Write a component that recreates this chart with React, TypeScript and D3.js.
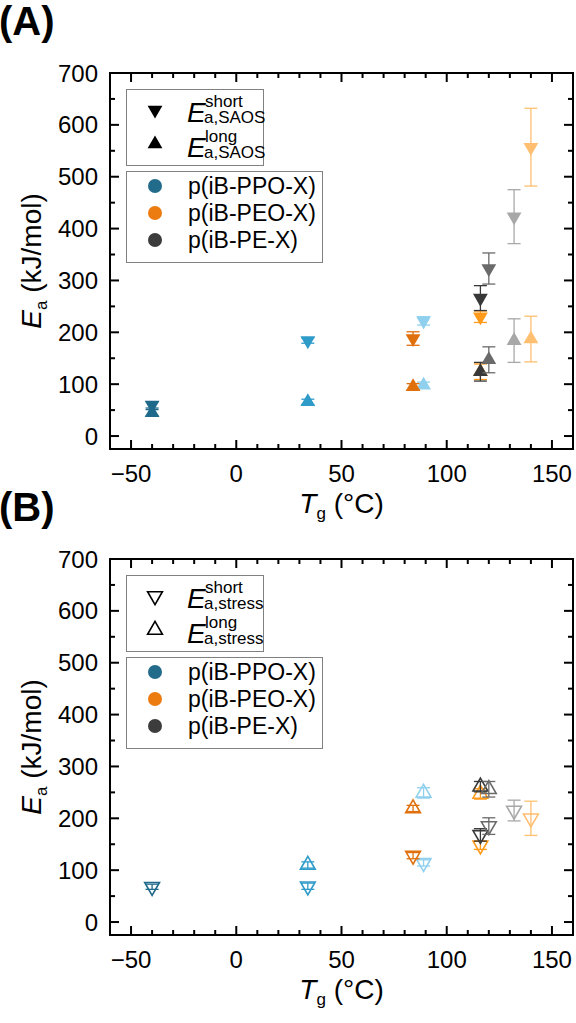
import { useEffect, useRef } from 'react';
import * as d3 from 'd3';

// glass transition temperature of every sample (°C)
const tgValues = [-40, 34, 89, 84, 116, 140, 116, 120, 132];
const sampleColors = ['#1f6a8b', '#2f9bc9', '#8fd0ee', '#e0700c', '#ff9a1a', '#ffbf70', '#383838', '#6a6a6a', '#a8a8a8'];

// activation energies from SAOS (kJ/mol)
const saosShort = [60, 184, 222, 188, 230, 557, 266, 323, 423];
const saosShortErr = [6, 5, 8, 13, 11, 75, 24, 30, 52];
const saosLong = [45, 66, 98, 95, 124, 187, 124, 147, 184];
const saosLongErr = [6, 5, 6, 6, 15, 44, 18, 25, 42];

// activation energies from stress relaxation (kJ/mol)
const stressShort = [68, 69, 114, 128, 148, 200, 168, 185, 215];
const stressShortErr = [5, 6, 6, 6, 8, 33, 12, 16, 20];
const stressLong = [NaN, 110, 249, 219, 247, NaN, 261, 256, NaN];
const stressLongErr = [0, 6, 10, 6, 10, 0, 10, 15, 0];

const familyNames = ['p(iB-PPO-X)', 'p(iB-PEO-X)', 'p(iB-PE-X)'];
const familyColors = ['#226b8b', '#ec7b10', '#3c3c3c'];

const xTicks = [-50, 0, 50, 100, 150];
const yTicks = [0, 100, 200, 300, 400, 500, 600, 700];

const FONT = 'Liberation Sans, Arial, Helvetica, sans-serif';
const W = 576;
const H = 1023;

interface PanelOpts {
  dy: number;
  tag: string;
  sub: string;
  hollow: boolean;
  short: number[];
  shortErr: number[];
  long: number[];
  longErr: number[];
}

function drawPanel(root: d3.Selection<SVGGElement, unknown, null, undefined>, o: PanelOpts) {
  const g = root.append('g').attr('transform', `translate(0,${o.dy})`);
  const left = 110, right = 573, top = 73, bottom = 449;

  const x = d3.scaleLinear().domain([-60, 160]).range([left, right]);
  const y = d3.scaleLinear().domain([-25, 700]).range([bottom, top]);

  // panel tag
  g.append('text')
    .attr('x', -1).attr('y', 35)
    .attr('font-family', FONT).attr('font-weight', 'bold').attr('font-size', 40)
    .text(`(${o.tag})`);

  // ticks on all four sides, pointing inward
  d3.range(-50, 160, 10).forEach(v => {
    const len = v % 50 === 0 ? 9 : 5;
    const px = x(v);
    g.append('line').attr('x1', px).attr('x2', px).attr('y1', bottom).attr('y2', bottom - len)
      .attr('stroke', '#000').attr('stroke-width', 2);
    g.append('line').attr('x1', px).attr('x2', px).attr('y1', top).attr('y2', top + len)
      .attr('stroke', '#000').attr('stroke-width', 2);
  });
  d3.range(0, 700, 50).forEach(v => {
    const len = v % 100 === 0 ? 9 : 5;
    const py = y(v);
    g.append('line').attr('x1', left).attr('x2', left + len).attr('y1', py).attr('y2', py)
      .attr('stroke', '#000').attr('stroke-width', 2);
    g.append('line').attr('x1', right).attr('x2', right - len).attr('y1', py).attr('y2', py)
      .attr('stroke', '#000').attr('stroke-width', 2);
  });

  g.append('rect')
    .attr('x', left).attr('y', top)
    .attr('width', right - left).attr('height', bottom - top)
    .attr('fill', 'none').attr('stroke', '#000').attr('stroke-width', 2);

  // tick labels
  xTicks.forEach(v => {
    g.append('text')
      .attr('x', x(v)).attr('y', bottom + 33)
      .attr('text-anchor', 'middle')
      .attr('font-family', FONT).attr('font-size', 24)
      .text(v < 0 ? `\u2212${Math.abs(v)}` : `${v}`);
  });
  yTicks.forEach(v => {
    g.append('text')
      .attr('x', 98).attr('y', y(v) + 8.5)
      .attr('text-anchor', 'end')
      .attr('font-family', FONT).attr('font-size', 24)
      .text(`${v}`);
  });

  // axis titles
  const xt = g.append('text')
    .attr('x', (left + right) / 2).attr('y', bottom + 64)
    .attr('text-anchor', 'middle')
    .attr('font-family', FONT).attr('font-size', 28);
  xt.append('tspan').attr('font-style', 'italic').text('T');
  xt.append('tspan').attr('font-size', 17).attr('dy', 6).text('g');
  xt.append('tspan').attr('dy', -6).text(' (°C)');

  const yt = g.append('text')
    .attr('transform', `translate(41,${(top + bottom) / 2}) rotate(-90)`)
    .attr('text-anchor', 'middle')
    .attr('font-family', FONT).attr('font-size', 28);
  yt.append('tspan').attr('font-style', 'italic').text('E');
  yt.append('tspan').attr('font-size', 17).attr('dy', 6).text('a');
  yt.append('tspan').attr('dy', -6).text(' (kJ/mol)');

  // data: error bars then triangles
  const tri = d3.symbol().type(d3.symbolTriangle).size(95)();
  const drawSet = (vals: number[], errs: number[], pointDown: boolean, i: number) => {
    const v = vals[i];
    if (Number.isNaN(v)) return;
    const c = sampleColors[i];
    const px = x(tgValues[i]);
    const e = errs[i];
    const eb = g.append('g').attr('stroke', c).attr('stroke-width', 1.3);
    eb.append('line').attr('x1', px).attr('x2', px).attr('y1', y(v - e)).attr('y2', y(v + e));
    [v - e, v + e].forEach(ev => {
      eb.append('line').attr('x1', px - 6.5).attr('x2', px + 6.5).attr('y1', y(ev)).attr('y2', y(ev));
    });
    g.append('path')
      .attr('d', tri)
      .attr('transform', `translate(${px},${y(v)})${pointDown ? ' rotate(180)' : ''}`)
      .attr('fill', o.hollow ? 'none' : c)
      .attr('stroke', o.hollow ? c : 'none')
      .attr('stroke-width', 1.6);
  };
  tgValues.forEach((_, i) => {
    drawSet(o.short, o.shortErr, true, i);
    drawSet(o.long, o.longErr, false, i);
  });

  // legend: marker types
  const lg = g.append('g');
  lg.append('rect').attr('x', 126.5).attr('y', 89.5).attr('width', 137).attr('height', 76)
    .attr('fill', '#fff').attr('stroke', '#808080').attr('stroke-width', 1);
  [['short', true], ['long', false]].forEach(([label, pd], k) => {
    const cy = 110 + k * 34;
    lg.append('path')
      .attr('d', tri)
      .attr('transform', `translate(155,${cy})${pd ? ' rotate(180)' : ''}`)
      .attr('fill', o.hollow ? 'none' : '#000')
      .attr('stroke', o.hollow ? '#000' : 'none')
      .attr('stroke-width', 1.6);
    const base = 122 + k * 35;
    lg.append('text').attr('x', 187).attr('y', base)
      .attr('font-family', FONT).attr('font-size', 28).attr('font-style', 'italic').text('E');
    lg.append('text').attr('x', 205).attr('y', base - 15)
      .attr('font-family', FONT).attr('font-size', 17).text(label as string);
    lg.append('text').attr('x', 204).attr('y', base + 1)
      .attr('font-family', FONT).attr('font-size', 17).text(`a,${o.sub}`);
  });

  // legend: polymer families
  lg.append('rect').attr('x', 126.5).attr('y', 171.5).attr('width', 196).attr('height', 91)
    .attr('fill', '#fff').attr('stroke', '#808080').attr('stroke-width', 1);
  familyNames.forEach((name, k) => {
    const cy = 186 + k * 27;
    lg.append('circle').attr('cx', 155).attr('cy', cy).attr('r', 7).attr('fill', familyColors[k]);
    lg.append('text').attr('x', 188).attr('y', cy + 8)
      .attr('font-family', FONT).attr('font-size', 23).text(name);
  });
}

export default function App() {
  const svgRef = useRef<SVGSVGElement>(null);

  useEffect(() => {
    if (!svgRef.current) return;
    const svg = d3.select(svgRef.current);
    svg.selectAll('*').remove();
    const root = svg.append('g');

    drawPanel(root as any, {
      dy: 0, tag: 'A', sub: 'SAOS', hollow: false,
      short: saosShort, shortErr: saosShortErr, long: saosLong, longErr: saosLongErr
    });
    drawPanel(root as any, {
      dy: 486, tag: 'B', sub: 'stress', hollow: true,
      short: stressShort, shortErr: stressShortErr, long: stressLong, longErr: stressLongErr
    });
  }, []);

  return (
    <div style={{ position: 'absolute', left: 0, top: 0, background: '#fff' }}>
      <svg ref={svgRef} width={W} height={H} style={{ display: 'block' }} />
    </div>
  );
}
